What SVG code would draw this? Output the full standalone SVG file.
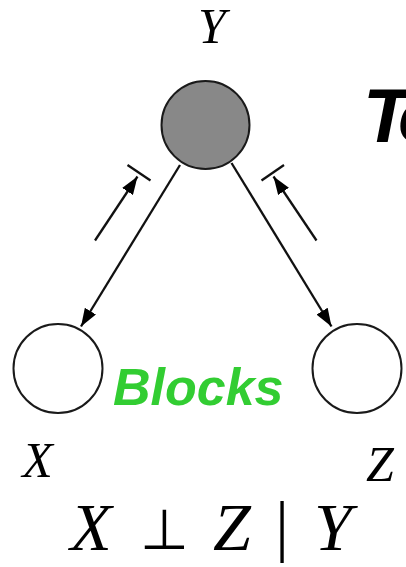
<svg xmlns="http://www.w3.org/2000/svg" width="406" height="567" viewBox="0 0 406 567">
<style>
.node{stroke:#1a1a1a;stroke-width:2}
.edge{stroke:#111;stroke-width:2.3;fill:none}
.lbl{font-family:"Liberation Serif","Times New Roman",serif;font-style:italic;fill:#000}
.math{font-family:"Liberation Serif","Times New Roman",serif;font-style:italic;font-size:68px;fill:#000}
.sym{font-family:"DejaVu Sans",sans-serif;font-weight:200;font-size:56px;fill:#000}
.bar{font-family:"Liberation Serif","Times New Roman",serif;font-size:68px;fill:#000}
</style>
<defs>
<marker id="ah" viewBox="0 0 18 13" markerUnits="userSpaceOnUse" markerWidth="18" markerHeight="13" refX="18" refY="6.5" orient="auto">
<path d="M0,0 L18,6.5 L0,13 z" fill="#000"/>
</marker>
</defs>
<rect width="406" height="567" fill="#fff"/>
<g id="connectors">
<line class="edge" x1="180" y1="165" x2="81" y2="326.5" marker-end="url(#ah)"/>
<line class="edge" x1="231.5" y1="163" x2="331.5" y2="326.5" marker-end="url(#ah)"/>
<line class="edge" x1="95" y1="240.5" x2="137.5" y2="176.5" marker-end="url(#ah)"/>
<line class="edge" x1="127.5" y1="165" x2="150.5" y2="180.5"/>
<line class="edge" x1="316.5" y1="240.5" x2="273.5" y2="176.5" marker-end="url(#ah)"/>
<line class="edge" x1="261.5" y1="180.5" x2="284" y2="165"/>
</g>
<g id="node-Y">
<circle class="node" cx="205.5" cy="125" r="44" fill="#888"/>
<text class="lbl" x="212" y="43" font-size="50" text-anchor="middle">Y</text>
</g>
<g id="node-X">
<circle class="node" cx="58" cy="368.5" r="44.5" fill="#fff"/>
<text class="lbl" x="37.5" y="477" font-size="50" text-anchor="middle">X</text>
</g>
<g id="node-Z">
<circle class="node" cx="357" cy="368.5" r="44.5" fill="#fff"/>
<text class="lbl" x="380" y="481" font-size="50" text-anchor="middle">Z</text>
</g>
<text y="142" font-family="Liberation Sans,Arial,sans-serif" font-weight="bold" font-style="italic" font-size="76" fill="#000"><tspan x="363">T</tspan><tspan x="398">o</tspan></text>
<text x="113" y="405" font-family="Liberation Sans,Arial,sans-serif" font-weight="bold" font-style="italic" font-size="52" fill="#32CD32">Blocks</text>
<g id="formula">
<text class="math" x="91" y="550" text-anchor="middle">X</text>
<text class="sym" x="164" y="549" text-anchor="middle">⊥</text>
<text class="math" x="232" y="550" text-anchor="middle">Z</text>
<text class="bar" x="282" y="549" text-anchor="middle">|</text>
<text class="math" x="333" y="550" text-anchor="middle">Y</text>
</g>
</svg>
